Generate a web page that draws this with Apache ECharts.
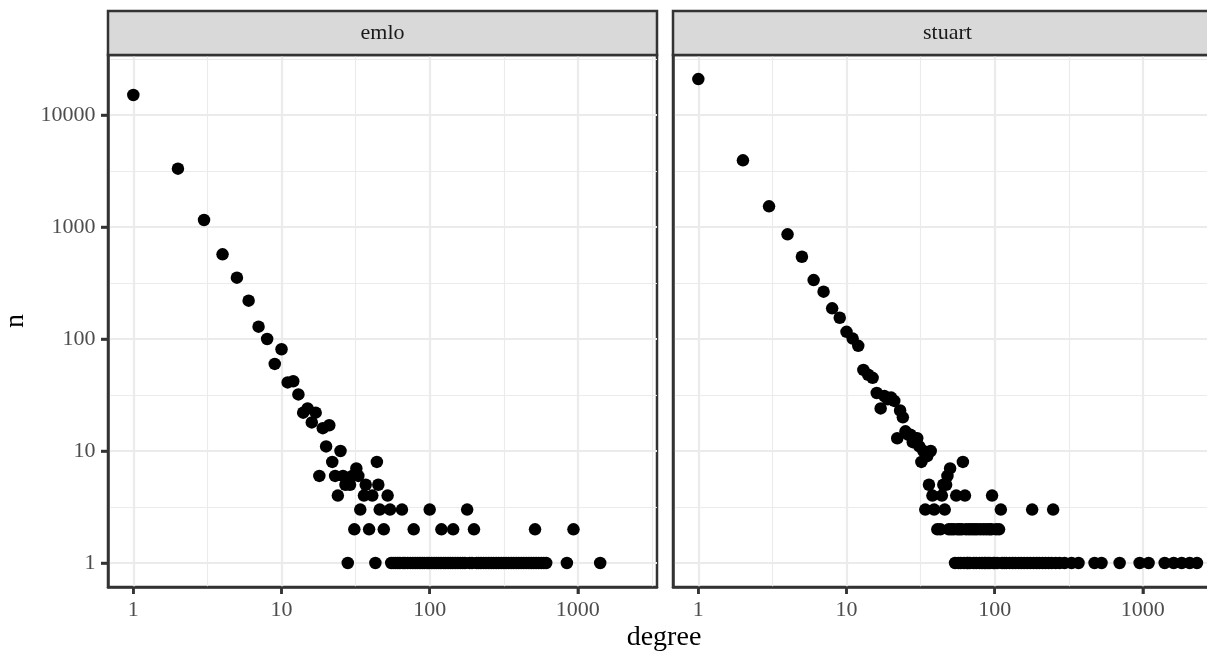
<!DOCTYPE html>
<html>
<head>
<meta charset="utf-8">
<script src="https://cdn.jsdelivr.net/npm/echarts@6/dist/echarts.min.js"></script>
<style>
html, body { margin: 0; padding: 0; background: #fff; }
#chart { width: 1207px; height: 651px; }
</style>
</head>
<body>
<div id="chart"></div>
<script>
// degree distribution, one facet per dataset
var panels = ['emlo', 'stuart'];
var xBreaks = [1, 10, 100, 1000];
var yBreaks = [1, 10, 100, 1000, 10000];

// [degree, n] for degrees with n > 1 (plus a few isolated n = 1 points)
var emloPoints = [
    [1, 15100], [2, 3320], [3, 1155], [4, 570], [5, 353], [6, 220], [7, 129], [8, 100], [9, 60], [10, 81],
    [11, 41], [12, 42], [13, 32], [14, 22], [15, 24], [16, 18], [17, 22], [18, 6], [19, 16], [20, 11],
    [21, 17], [22, 8], [23, 6], [24, 4], [25, 10], [26, 6], [27, 5], [28, 1], [29, 5], [30, 6],
    [31, 2], [32, 7], [33, 6], [34, 3], [36, 4], [37, 5], [39, 2], [41, 4], [43, 1], [44, 8],
    [45, 5], [46, 3], [49, 2], [52, 4], [54, 3], [65, 3], [78, 2], [100, 3], [120, 2], [144, 2],
    [179, 3], [199, 2], [514, 2], [934, 2]
];
// degrees that occur exactly once
var emloSingles = [55, 57, 59, 61, 63, 66, 68, 71, 74, 77, 80, 83, 86, 89, 92, 96, 99, 103, 107, 111,
    115, 119, 124, 128, 133, 138, 143, 149, 155, 161, 167, 173, 186, 193, 207, 214, 222, 231, 240, 250,
    260, 270, 281, 292, 304, 316, 328, 341, 355, 369, 384, 399, 415, 431, 448, 466, 484, 503, 523, 544,
    566, 589, 611, 843, 1415];

var stuartPoints = [
    [1, 20950], [2, 3940], [3, 1530], [4, 860], [5, 543], [6, 336], [7, 265], [8, 188], [9, 155], [10, 116],
    [11, 101], [12, 87], [13, 53], [14, 48], [15, 45], [16, 33], [17, 24], [18, 31], [19, 29], [20, 30],
    [21, 28], [22, 13], [23, 23], [24, 20], [25, 15], [26, 14], [27, 14], [28, 12], [29, 13], [30, 13],
    [31, 11], [32, 8], [33, 10], [34, 3], [35, 9], [36, 5], [37, 10], [38, 4], [39, 3], [41, 2],
    [43, 2], [44, 4], [45, 5], [46, 3], [47, 5], [48, 6], [49, 2], [50, 7], [51, 2], [53, 2],
    [55, 4], [56, 2], [58, 2], [60, 2], [61, 8], [63, 4], [64, 2], [67, 2], [70, 2], [73, 2],
    [76, 2], [80, 2], [84, 2], [88, 2], [92, 2], [95, 2], [96, 4], [102, 2], [107, 2], [110, 3],
    [179, 3], [248, 3]
];
var stuartSingles = [54, 57, 59, 62, 65, 66, 68, 72, 75, 79, 82, 85, 87, 90, 93, 98, 100, 104, 112, 116,
    120, 126, 132, 138, 145, 151, 158, 166, 174, 183, 192, 200, 210, 220, 231, 242, 258, 274, 296, 330,
    368, 472, 526, 697, 951, 1093, 1403, 1614, 1828, 2070, 2318];

var xLim = [-0.171, 3.534];   // log10 limits
var yLim = [-0.214, 4.536];

var serif = 'Liberation Serif';
var lg = function (v) { return Math.log10(v); };

function toLog(points, singles) {
    var out = points.map(function (p) { return [lg(p[0]), lg(p[1])]; });
    singles.forEach(function (d) { out.push([lg(d), 0]); });
    return out;
}

function minorOf(breaks) {
    return breaks.map(function (b) { return lg(b) + 0.5; });
}

function powLabel(v) {
    return String(Math.round(Math.pow(10, v)));
}

var chart = echarts.init(document.getElementById('chart'), null, {renderer: 'canvas'});

var gridLeft = [108, 673];
var panelW = 549, panelTop = 55, panelH = 532;
var ink = {color: '#333', width: 2.5};
var tickLen = 7;

var grids = gridLeft.map(function (l) {
    return {left: l, top: panelTop, width: panelW, height: panelH, show: true,
        outerBoundsMode: 'none', containLabel: false,
        backgroundColor: '#fff', borderColor: '#333', borderWidth: 2.5};
});

var xAxes = [], yAxes = [];
gridLeft.forEach(function (l, i) {
    xAxes.push({
        gridIndex: i, type: 'value', min: xLim[0], max: xLim[1], position: 'bottom',
        axisLine: {show: true, onZero: false, lineStyle: ink},
        axisTick: {show: true, inside: false, length: tickLen, customValues: xBreaks.map(lg), lineStyle: ink},
        axisLabel: {customValues: xBreaks.map(lg), margin: 12.5, color: '#4D4D4D', fontFamily: serif, fontSize: 22,
            formatter: powLabel},
        splitLine: {show: true, lineStyle: {color: '#EBEBEB', width: 2.2}}
    });
    yAxes.push({
        gridIndex: i, type: 'value', min: yLim[0], max: yLim[1], position: 'left',
        axisLine: {show: true, onZero: false, lineStyle: ink},
        axisTick: {show: i === 0, inside: false, length: tickLen, customValues: yBreaks.map(lg), lineStyle: ink},
        axisLabel: {show: i === 0, customValues: yBreaks.map(lg), margin: 12.5, color: '#4D4D4D', fontFamily: serif, fontSize: 22,
            formatter: powLabel},
        splitLine: {show: true, lineStyle: {color: '#EBEBEB', width: 2.2}}
    });
});
// minor grid lines, half way between the major breaks (log scale)
gridLeft.forEach(function (l, i) {
    xAxes.push({
        gridIndex: i, type: 'value', min: xLim[0], max: xLim[1], position: 'top',
        axisLine: {show: false, onZero: false}, axisLabel: {show: false},
        axisTick: {show: false, customValues: minorOf(xBreaks)},
        splitLine: {show: true, lineStyle: {color: '#EBEBEB', width: 1.1}}
    });
    yAxes.push({
        gridIndex: i, type: 'value', min: yLim[0], max: yLim[1], position: 'right',
        axisLine: {show: false, onZero: false}, axisLabel: {show: false},
        axisTick: {show: false, customValues: minorOf(yBreaks)},
        splitLine: {show: true, lineStyle: {color: '#EBEBEB', width: 1.1}}
    });
});

var graphics = [];
panels.forEach(function (name, i) {
    graphics.push({
        type: 'rect', shape: {x: gridLeft[i], y: 11, width: panelW, height: 44},
        style: {fill: '#D9D9D9', stroke: '#333', lineWidth: 2.5}, z: 10
    });
    graphics.push({
        type: 'text', x: gridLeft[i] + panelW / 2, y: 33, z: 11,
        style: {text: name, fill: '#1A1A1A', font: '22px "Liberation Serif"', textAlign: 'center', textVerticalAlign: 'middle'}
    });
});
graphics.push({
    type: 'text', x: 664, y: 638, z: 11,
    style: {text: 'degree', fill: '#000', font: '28px "Liberation Serif"', textAlign: 'center', textVerticalAlign: 'middle'}
});
graphics.push({
    type: 'text', x: 16, y: 321, rotation: Math.PI / 2, z: 11,
    style: {text: 'n', fill: '#000', font: '28px "Liberation Serif"', textAlign: 'center', textVerticalAlign: 'middle'}
});

chart.setOption({
    animation: false,
    backgroundColor: '#fff',
    grid: grids,
    xAxis: xAxes,
    yAxis: yAxes,
    graphic: graphics,
    series: [
        {type: 'scatter', xAxisIndex: 0, yAxisIndex: 0, symbolSize: 12.5, itemStyle: {color: '#000', opacity: 1},
            data: toLog(emloPoints, emloSingles), z: 5},
        {type: 'scatter', xAxisIndex: 1, yAxisIndex: 1, symbolSize: 12.5, itemStyle: {color: '#000', opacity: 1},
            data: toLog(stuartPoints, stuartSingles), z: 5}
    ]
});

// axis ticks, positioned through the chart's own scales
var bottom = panelTop + panelH;
var ticks = [];
[0, 1].forEach(function (i) {
    xBreaks.forEach(function (b) {
        var px = chart.convertToPixel({xAxisIndex: i}, lg(b));
        ticks.push({type: 'rect', z: 12, shape: {x: px - 1.25, y: bottom, width: 2.5, height: tickLen},
            style: {fill: '#333'}});
    });
});
yBreaks.forEach(function (b) {
    var py = chart.convertToPixel({yAxisIndex: 0}, lg(b));
    ticks.push({type: 'rect', z: 12, shape: {x: gridLeft[0] - tickLen, y: py - 1.25, width: tickLen, height: 2.5},
        style: {fill: '#333'}});
});
chart.setOption({graphic: graphics.concat(ticks)});
</script>
</body>
</html>
